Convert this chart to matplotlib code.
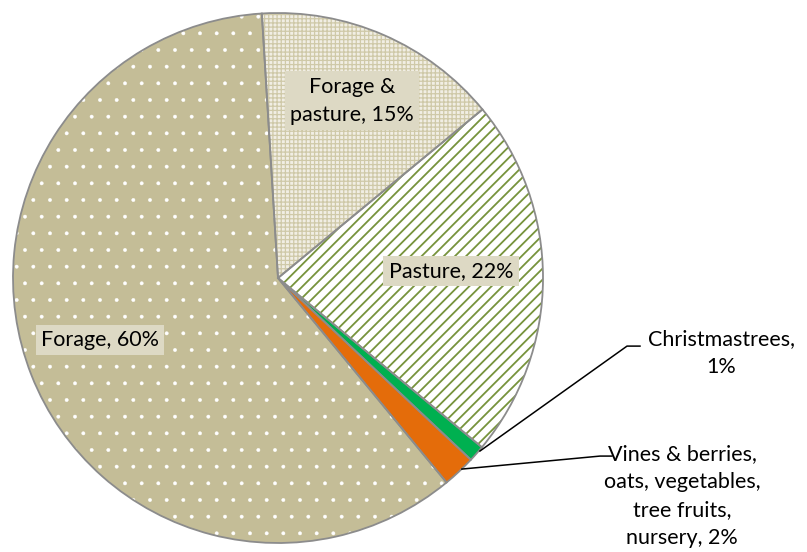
import matplotlib
matplotlib.use("Agg")
import matplotlib.pyplot as plt
from matplotlib.patches import Wedge

plt.rcParams["font.family"] = ["Lato", "DejaVu Sans"]

# slices in clockwise order starting near 12 o'clock
labels = ["Forage &\npasture, 15%", "Pasture, 22%", "Christmastrees,\n1%",
          "Vines & berries,\noats, vegetables,\ntree fruits,\nnursery, 2%", "Forage, 60%"]
shares = [15, 22, 1, 2, 60]

face_colors = ["#F1EEE4", "#FFFFFF", "#00B050", "#E46C0A", "#C4BD97"]
hatches = ["++++", "///", None, None, "."]
hatch_colors = ["#CFC9A8", "#77933C", None, None, "#FFFFFF"]
hatch_widths = [0.9, 1.3, None, None, 0.3]

fig = plt.figure(figsize=(8.07, 5.52), dpi=100)
ax = fig.add_axes([0, 0, 1, 1])

wedges, _ = ax.pie(
    shares,
    colors=face_colors,
    startangle=93.5,
    counterclock=False,
    radius=1.0,
    wedgeprops=dict(linewidth=0),
)

# hatch overlays, then gray outlines on top
for w, h, hc, hw in zip(wedges, hatches, hatch_colors, hatch_widths):
    if h is None:
        continue
    plt.rcParams["hatch.linewidth"] = hw
    overlay = Wedge(w.center, w.r, w.theta1, w.theta2, facecolor="none",
                    edgecolor=hc, linewidth=0, hatch=h)
    ax.add_patch(overlay)
for w in wedges:
    ax.add_patch(Wedge(w.center, w.r, w.theta1, w.theta2, facecolor="none",
                       edgecolor="#8C8C8C", linewidth=1.3))

box = dict(boxstyle="square,pad=0.25", fc="#DDD9C4", ec="none")
text_kw = dict(fontsize=15.5, ha="center", va="center", linespacing=1.5)

ax.text(0.279, 0.669, labels[0], bbox=box, **text_kw)
ax.text(0.653, 0.026, labels[1], bbox=box, **text_kw)
ax.text(-0.672, -0.234, labels[4], bbox=box, **text_kw)

# outside labels with leader lines
ax.text(1.672, -0.283, labels[2], **text_kw)
ax.plot([0.762, 1.317, 1.366], [-0.653, -0.257, -0.257], color="black", linewidth=1.1)

ax.text(1.525, -0.823, labels[3], **text_kw)
ax.plot([0.694, 1.215, 1.26], [-0.721, -0.672, -0.672], color="black", linewidth=1.1)

ax.set_xlim(-278 / 265, (807 - 278) / 265)
ax.set_ylim(-274 / 265, 278 / 265)
ax.set_aspect("equal")
ax.axis("off")

fig.savefig("out.png", dpi=100)
